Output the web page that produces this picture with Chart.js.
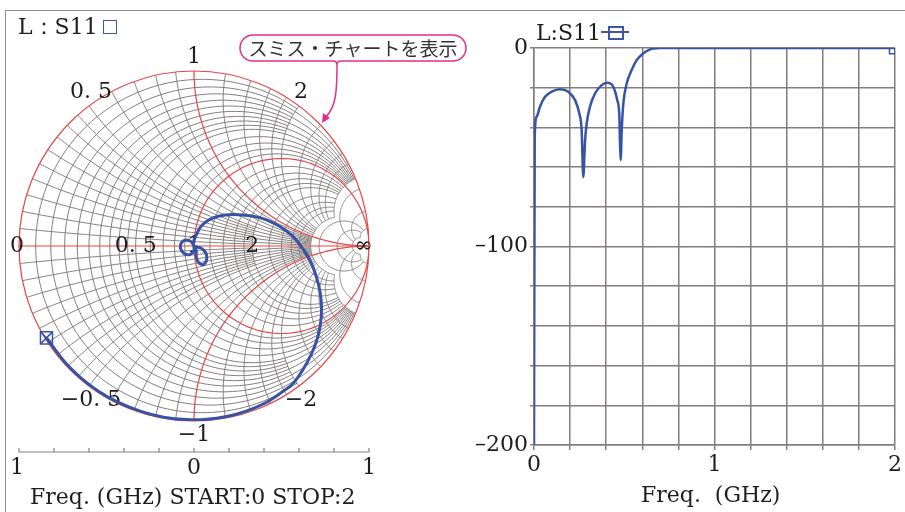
<!DOCTYPE html>
<html>
<head>
<meta charset="utf-8">
<script src="https://cdn.jsdelivr.net/npm/chart.js@4.4.1/dist/chart.umd.min.js"></script>
<style>
  body { margin: 0; background: #fff; width: 905px; height: 512px; overflow: hidden; position: relative;
         font-family: "DejaVu Serif", serif; color: #1e1e1e; }
  canvas { position: absolute; top: 0; }
  #smith { left: 0; }
  #sweep { left: 470px; }
  .txt { position: absolute; font-size: 22px; line-height: 1; white-space: pre; }
  #frame { position: absolute; left: 5px; top: 10px; width: 910px; height: 510px;
           border-left: 1.5px solid #8c8c8c; border-top: 1.5px solid #8c8c8c; }
  #callout { position: absolute; left: 0; top: 0; pointer-events: none; }
  #bubbleText { position: absolute; left: 240px; top: 35px; width: 226px; height: 26px; line-height: 26px;
                text-align: center; font-family: "Noto Sans CJK JP", sans-serif; font-size: 19px; color: #333; }
</style>
</head>
<body>
<div id="frame"></div>
<canvas id="smith" width="470" height="512"></canvas>
<canvas id="sweep" width="435" height="512"></canvas>

<div class="txt" style="left:18px;top:16px">L：S11</div>
<div style="position:absolute;left:103px;top:20px;width:12px;height:12px;border:1.5px solid #3b55a8"></div>
<div class="txt" style="left:30px;top:486px">Freq. (GHz) START:0 STOP:2</div>

<div class="txt" style="left:536px;top:22px">L:S11</div>
<div style="position:absolute;left:601px;top:31px;width:28px;height:0;border-top:2px solid #3b55a8"></div>
<div style="position:absolute;left:608px;top:26px;width:12px;height:10px;border:2px solid #3b55a8"></div>
<div class="txt" style="left:641px;top:484px">Freq.  (GHz)</div>

<svg id="callout" width="905" height="512">
  <path d="M253,35 H453 A13,13 0 0 1 453,61 H341 Q337,61 337,65 Q337,61 333,61 H253 A13,13 0 0 1 253,35 Z"
        fill="#fff" stroke="#e0308c" stroke-width="1.5"/>
  <path d="M337,65 C337,92 336,106 326,117" fill="none" stroke="#e0308c" stroke-width="1.5"/>
  <polygon points="322,123 323,113 330,118" fill="#e0308c"/>
</svg>
<div id="bubbleText">スミス・チャートを表示</div>

<script>
// S11 trace on the Smith chart (reflection coefficient, real / imaginary)
const traceRe = [0, -0.017, -0.046, -0.071, -0.077, -0.057, -0.023, 0, 0,
  0.011, 0.014, 0.029, 0.054, 0.071, 0.069, 0.04, 0,
  0, 0.014, 0.034, 0.069, 0.114, 0.177, 0.251, 0.331, 0.411, 0.491, 0.560, 0.617, 0.663, 0.697, 0.720,
  0.729, 0.723, 0.703, 0.669, 0.623, 0.566, 0.498, 0.407, 0.294, 0.186, 0.073, -0.042, -0.174, -0.303,
  -0.432, -0.544, -0.647, -0.740, -0.843];
const traceIm = [0, 0.025, 0.034, 0.019, -0.012, -0.043, -0.049, -0.026, 0,
  -0.026, -0.066, -0.098, -0.106, -0.083, -0.043, -0.012, 0,
  0.031, 0.065, 0.105, 0.139, 0.162, 0.177, 0.179, 0.171, 0.151, 0.111, 0.059, -0.009, -0.083, -0.169, -0.261,
  -0.352, -0.443, -0.535, -0.621, -0.706, -0.786, -0.838, -0.897, -0.945, -0.974, -0.990, -0.992, -0.978, -0.945,
  -0.894, -0.831, -0.753, -0.662, -0.525];

// S11 magnitude vs frequency
const freqGHz = [0, 0.004, 0.015, 0.033, 0.061, 0.098, 0.144, 0.19, 0.227, 0.251, 0.264, 0.273,
  0.283, 0.292, 0.31, 0.338, 0.375, 0.406, 0.439, 0.461, 0.473, 0.476, 0.48,
  0.486, 0.495, 0.514, 0.541, 0.569, 0.606, 0.643, 0.66, 0.698, 2.0];
const s11dB = [-200, -44.5, -34.6, -29.6, -24.6, -22, -20.8, -22, -26.2, -33, -41.4, -65,
  -46.5, -38, -29.6, -22.9, -18.7, -17.5, -19.5, -26.2, -34.6, -46.5, -56.5,
  -41.4, -27.9, -17.8, -11.1, -6.1, -2.7, -0.7, -0.2, 0, 0];

// Smith chart grid: resistance / reactance values and how far each family runs
const fineGrid = [0.05, 0.15, 0.25, 0.35, 0.45];
const lowGrid = [0.1, 0.2, 0.3, 0.4, 0.5, 0.6, 0.7, 0.8, 0.9];
const midGrid = [1.2, 1.4, 1.6, 1.8, 2];
const highGrid = [2.5, 3, 3.5, 4, 5];
const topGrid = [6, 10, 20];
const edgeLabels = [['1', 0, 1], ['0. 5', -0.6, 0.8], ['2', 0.6, 0.8], ['−0. 5', -0.6, -0.8], ['−2', 0.6, -0.8], ['−1', 0, -1]];
const axisLabels = [['0', -1], ['0. 5', -1 / 3], ['1', 0], ['2', 1 / 3], ['∞', 0.97]];
const scaleLabels = ['1', '0', '1'];
const magnitudeLabels = [['0', 0], ['1', 1], ['2', 2]];

const blue = '#3653a6';
const gridGray = '#857d7d';
const red = '#e04848';
const textFont = '22px "DejaVu Serif", serif';

const gamma = (r, x) => {
  const d = (r + 1) * (r + 1) + x * x;
  return [(r * r + x * x - 1) / d, 2 * x / d];
};

const smithGrid = {
  id: 'smithGrid',
  beforeDatasetsDraw(chart) {
    const { ctx, scales: { x, y } } = chart;
    const px = (re, im) => [x.getPixelForValue(re), y.getPixelForValue(im)];
    const unit = x.getPixelForValue(1) - x.getPixelForValue(0);
    const [cx, cy] = px(0, 0);

    const poly = (pts) => {
      ctx.beginPath();
      pts.forEach((p, i) => {
        const [a, b] = px(p[0], p[1]);
        if (i === 0) ctx.moveTo(a, b); else ctx.lineTo(a, b);
      });
      ctx.stroke();
    };
    const resistance = (r, xmax) => {
      const c = r / (r + 1), rad = 1 / (r + 1);
      let p0 = 0;
      if (isFinite(xmax)) {
        const g = gamma(r, xmax);
        p0 = Math.atan2(g[1], g[0] - c);
      }
      const pts = [];
      for (let i = 0; i <= 160; i++) {
        const p = p0 + (2 * Math.PI - 2 * p0) * i / 160;
        pts.push([c + rad * Math.cos(p), rad * Math.sin(p)]);
      }
      poly(pts);
    };
    const reactance = (xv, rmax) => {
      const s = Math.sign(xv), a = Math.abs(xv), rad = 1 / a;
      const ang = (g) => {
        let p = Math.atan2(g[1] - rad, g[0] - 1);
        if (p < 0) p += 2 * Math.PI;
        return p;
      };
      const p0 = ang(gamma(0, a));
      const p1 = isFinite(rmax) ? ang(gamma(rmax, a)) : 1.5 * Math.PI;
      const pts = [];
      for (let i = 0; i <= 120; i++) {
        const p = p0 + (p1 - p0) * i / 120;
        pts.push([1 + rad * Math.cos(p), s * (rad + rad * Math.sin(p))]);
      }
      poly(pts);
    };

    ctx.save();
    ctx.beginPath();
    ctx.arc(cx, cy, unit, 0, 2 * Math.PI);
    ctx.clip();

    ctx.strokeStyle = gridGray;
    ctx.lineWidth = 1;
    const families = [[fineGrid, 2], [lowGrid, 5], [midGrid, 5], [highGrid, 5], [topGrid, 20]];
    families.forEach(([vals, lim]) => {
      vals.forEach(v => {
        resistance(v, lim);
        reactance(v, lim);
        reactance(-v, lim);
      });
    });

    ctx.strokeStyle = red;
    ctx.lineWidth = 1.2;
    resistance(1, Infinity);
    reactance(1, Infinity);
    reactance(-1, Infinity);
    poly([[-1, 0], [1, 0]]);
    ctx.restore();

    ctx.save();
    ctx.strokeStyle = red;
    ctx.lineWidth = 1.2;
    ctx.beginPath();
    ctx.arc(cx, cy, unit, 0, 2 * Math.PI);
    ctx.stroke();

    // labels round the edge and along the real axis
    ctx.fillStyle = '#1e1e1e';
    ctx.font = textFont;
    ctx.textAlign = 'center';
    ctx.textBaseline = 'middle';
    edgeLabels.forEach(([t, re, im]) => {
      const [a, b] = px(re, im);
      ctx.fillText(t, a + (re === 0 ? 0 : 2), b - Math.sign(im) * 14);
    });
    axisLabels.forEach(([t, re]) => {
      const [a, b] = px(re, 0);
      ctx.fillText(t, a - (re === -1 ? 2 : 0), b);
    });

    // reflection magnitude scale under the chart
    const sy = y.getPixelForValue(-1) + 31;
    ctx.strokeStyle = gridGray;
    ctx.lineWidth = 1.2;
    ctx.beginPath();
    ctx.moveTo(x.getPixelForValue(-1), sy);
    ctx.lineTo(x.getPixelForValue(1), sy);
    for (let i = 0; i <= 10; i++) {
      const tx = x.getPixelForValue(-1 + i * 0.2);
      ctx.moveTo(tx, sy);
      ctx.lineTo(tx, sy - 4);
    }
    ctx.stroke();
    scaleLabels.forEach((t, i) => {
      ctx.fillText(t, x.getPixelForValue(-1 + i) - (i === 0 ? 2 : 0), sy + 16);
    });
    ctx.restore();
  }
};

const tracePts = traceRe.map((re, i) => ({ x: re, y: traceIm[i] }));
const endPt = tracePts[tracePts.length - 1];

new Chart(document.getElementById('smith'), {
  type: 'scatter',
  data: {
    datasets: [
      { data: tracePts, showLine: true, borderColor: blue, borderWidth: 3, pointRadius: 0, tension: 0.3 },
      { data: [endPt], pointStyle: 'rect', pointRadius: 8.5, borderColor: blue, borderWidth: 1.5, backgroundColor: 'rgba(0,0,0,0)' },
      { data: [endPt], pointStyle: 'crossRot', pointRadius: 8.5, borderColor: blue, borderWidth: 1.5 }
    ]
  },
  options: {
    responsive: false,
    animation: false,
    devicePixelRatio: 1,
    layout: { padding: { left: 19, right: 101, top: 71, bottom: 91 } },
    scales: {
      x: { type: 'linear', min: -1, max: 1, display: false },
      y: { type: 'linear', min: -1, max: 1, display: false }
    },
    plugins: { legend: { display: false }, tooltip: { enabled: false } }
  },
  plugins: [smithGrid]
});

const sweepPts = freqGHz.map((f, i) => ({ x: f, y: s11dB[i] }));

new Chart(document.getElementById('sweep'), {
  type: 'line',
  data: {
    datasets: [
      { data: sweepPts, borderColor: blue, borderWidth: 2.5, pointRadius: 0, cubicInterpolationMode: 'monotone' },
      { data: [{ x: 1.985, y: -1.5 }], pointStyle: 'rect', pointRadius: 4, borderColor: blue, borderWidth: 1.5,
        backgroundColor: 'rgba(0,0,0,0)', showLine: false }
    ]
  },
  options: {
    responsive: false,
    animation: false,
    devicePixelRatio: 1,
    layout: { padding: { left: 0, right: 10, top: 48, bottom: 0 } },
    scales: {
      x: {
        type: 'linear', min: 0, max: 2,
        grid: { color: gridGray, lineWidth: 1.5, tickLength: 5 },
        border: { color: gridGray, width: 1.5 },
        ticks: {
          stepSize: 0.2, autoSkip: false, maxRotation: 0, padding: 2, color: '#1e1e1e',
          font: { family: '"DejaVu Serif", serif', size: 22 },
          callback: v => {
            const hit = magnitudeLabels.find(m => Math.abs(m[1] - v) < 1e-6);
            return hit ? hit[0] : '';
          }
        },
        afterFit: s => { s.height = 67; }
      },
      y: {
        type: 'linear', min: -200, max: 0,
        grid: { color: gridGray, lineWidth: 1.5, tickLength: 4 },
        border: { color: gridGray, width: 1.5 },
        ticks: {
          stepSize: 20, autoSkip: false, padding: 2, color: '#1e1e1e',
          font: { family: '"DejaVu Serif", serif', size: 22 },
          callback: v => (v % 100 === 0 ? (v < 0 ? '–' + (-v) : '0') : '')
        },
        afterFit: s => { s.width = 64; }
      }
    },
    plugins: { legend: { display: false }, tooltip: { enabled: false } }
  }
});
</script>
</body>
</html>
